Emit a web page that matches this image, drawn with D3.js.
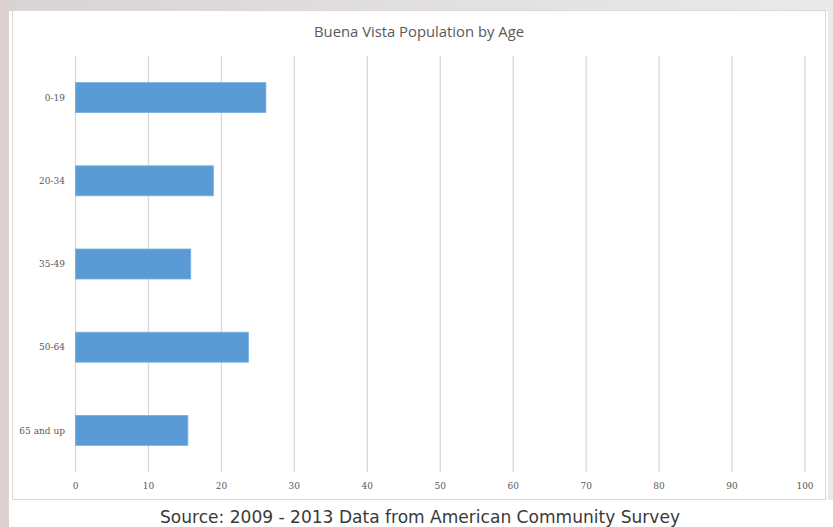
<!DOCTYPE html>
<html>
<head>
<meta charset="utf-8">
<script src="https://cdn.jsdelivr.net/npm/d3@7"></script>
<style>
  html, body { margin: 0; padding: 0; background: #ffffff; }
  svg { display: block; }
</style>
</head>
<body>
<div id="chart"></div>
<script>
// chart values
const categories = ["0-19", "20-34", "35-49", "50-64", "65 and up"];
const population = [26.1, 18.9, 15.8, 23.7, 15.4];
const xTicks = [0, 10, 20, 30, 40, 50, 60, 70, 80, 90, 100];
const chartTitle = "Buena Vista Population by Age";
const sourceNote = "Source: 2009 - 2013 Data from American Community Survey";

const width = 833, height = 527;

const svg = d3.select("#chart")
    .append("svg")
    .attr("width", width)
    .attr("height", height);

// slide-like backdrop around the chart
const defs = svg.append("defs");
const topGrad = defs.append("linearGradient").attr("id", "topGrad");
topGrad.append("stop").attr("offset", "0%").attr("stop-color", "#d9d4d4");
topGrad.append("stop").attr("offset", "100%").attr("stop-color", "#ebe9e9");

svg.append("rect")
    .attr("x", 0).attr("y", 0)
    .attr("width", width).attr("height", 11)
    .attr("fill", "url(#topGrad)");
svg.append("rect")
    .attr("x", 0).attr("y", 0)
    .attr("width", 9).attr("height", height)
    .attr("fill", "#dcd2d2");
svg.append("rect")
    .attr("x", 828).attr("y", 0)
    .attr("width", 5).attr("height", 500)
    .attr("fill", "#ebe9e9");

// chart box
svg.append("rect")
    .attr("x", 12.5).attr("y", 10.5)
    .attr("width", 813).attr("height", 489)
    .attr("fill", "#ffffff")
    .attr("stroke", "#d9d9d9")
    .attr("stroke-width", 1);

const plot = { left: 75.5, right: 805, top: 56, bottom: 472 };

const x = d3.scaleLinear()
    .domain([0, 100])
    .range([plot.left, plot.right]);

const y = d3.scaleBand()
    .domain(categories)
    .range([plot.top, plot.bottom])
    .paddingInner(0.64)
    .paddingOuter(0.32);

// gridlines
svg.append("g")
    .selectAll("line")
    .data(xTicks)
    .enter().append("line")
    .attr("x1", d => x(d)).attr("x2", d => x(d))
    .attr("y1", plot.top).attr("y2", plot.bottom)
    .attr("stroke", "#d9d9d9")
    .attr("stroke-width", 1.3);

// bars
svg.append("g")
    .selectAll("rect")
    .data(categories)
    .enter().append("rect")
    .attr("x", x(0))
    .attr("y", d => y(d))
    .attr("width", (d, i) => x(population[i]) - x(0))
    .attr("height", y.bandwidth())
    .attr("fill", "#5b9bd5")
    .attr("stroke", "#79aede")
    .attr("stroke-width", 0.8);

// x tick labels
svg.append("g")
    .selectAll("text")
    .data(xTicks)
    .enter().append("text")
    .attr("x", d => x(d))
    .attr("y", 489)
    .attr("text-anchor", "middle")
    .style("font-family", "'DejaVu Serif', 'Liberation Serif', serif")
    .style("font-size", "9px")
    .style("fill", "#595959")
    .text(d => d);

// category labels
svg.append("g")
    .selectAll("text")
    .data(categories)
    .enter().append("text")
    .attr("x", 65)
    .attr("y", d => y(d) + y.bandwidth() / 2)
    .attr("dy", "0.35em")
    .attr("text-anchor", "end")
    .style("font-family", "'DejaVu Serif', 'Liberation Serif', serif")
    .style("font-size", "9px")
    .style("fill", "#595959")
    .text(d => d);

// title
svg.append("text")
    .attr("x", 419)
    .attr("y", 37)
    .attr("text-anchor", "middle")
    .attr("textLength", 210)
    .attr("lengthAdjust", "spacingAndGlyphs")
    .style("font-family", "'Open Sans', sans-serif")
    .style("font-size", "14.5px")
    .style("fill", "#595959")
    .text(chartTitle);

// source line
svg.append("text")
    .attr("x", 420)
    .attr("y", 523)
    .attr("text-anchor", "middle")
    .attr("textLength", 520)
    .attr("lengthAdjust", "spacingAndGlyphs")
    .style("font-family", "'DejaVu Sans', sans-serif")
    .style("font-size", "17px")
    .style("fill", "#3a3a3a")
    .text(sourceNote);
</script>
</body>
</html>
